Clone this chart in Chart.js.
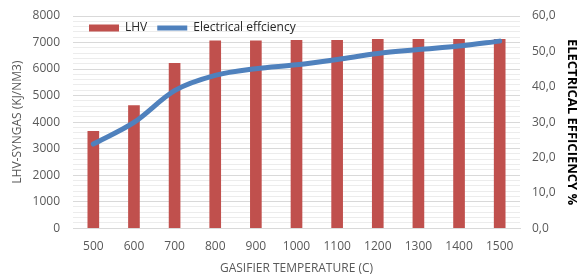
<!DOCTYPE html>
<html>
<head>
<meta charset="utf-8">
<script src="https://cdn.jsdelivr.net/npm/chart.js@4/dist/chart.umd.min.js"></script>
<style>
  html, body { margin: 0; padding: 0; background: #ffffff; }
  #wrap { width: 582px; height: 277px; }
</style>
</head>
<body>
<div id="wrap"><canvas id="chart"></canvas></div>
<script>
// values
const temperatures = ['500', '600', '700', '800', '900', '1000', '1100', '1200', '1300', '1400', '1500'];
const lhvValues = [3650, 4620, 6220, 7060, 7060, 7080, 7080, 7120, 7120, 7120, 7120];
const efficiencyValues = [23.8, 29.9, 38.9, 43.2, 45.1, 46.2, 47.7, 49.4, 50.5, 51.5, 52.9];

const tickColor = '#595959';
const fontFamily = "'Open Sans', 'Noto Sans', sans-serif";

// the legend sits inside the plot area, so it takes no room in the layout
const legendInside = {
    id: 'legendInside',
    afterInit(chart) {
        const lg = chart.legend;
        const fit = lg.fit.bind(lg);
        lg.fit = function () { fit(); this.height = 0; };
    },
    afterLayout(chart) {
        const lg = chart.legend;
        const area = chart.chartArea;
        lg.left = area.left + 6;
        lg.right = area.right;
        lg.top = area.top - 4;
        lg.bottom = lg.top + 30;
        lg.width = lg.right - lg.left;
        lg.height = 30;
    }
};

// fixed side widths; keep the tick padding from pushing the plot top down
const fixSide = (w) => (scale) => {
    scale.width = w;
    scale.paddingTop = 8;
    scale.paddingBottom = 8;
};

const ctx = document.getElementById('chart').getContext('2d');

new Chart(ctx, {
    type: 'bar',
    data: {
        labels: temperatures,
        datasets: [
            {
                type: 'bar',
                label: 'LHV',
                data: lhvValues,
                backgroundColor: '#c0504d',
                borderWidth: 0,
                barThickness: 11,
                pointStyle: 'rect',
                yAxisID: 'y',
                order: 2
            },
            {
                type: 'line',
                label: 'Electrical effciency',
                data: efficiencyValues,
                borderColor: '#4f81bd',
                backgroundColor: '#4f81bd',
                borderWidth: 5,
                borderCapStyle: 'round',
                borderJoinStyle: 'round',
                cubicInterpolationMode: 'monotone',
                pointRadius: 0,
                pointStyle: 'line',
                yAxisID: 'y1',
                order: 1
            }
        ]
    },
    options: {
        responsive: true,
        maintainAspectRatio: false,
        animation: false,
        layout: {
            padding: { top: 16, left: 0, right: 0, bottom: 0 }
        },
        scales: {
            x: {
                grid: { display: false },
                border: { display: true, color: '#d9d9d9' },
                ticks: {
                    color: tickColor,
                    font: { family: fontFamily, size: 12 },
                    padding: 3
                },
                title: {
                    display: true,
                    text: 'GASIFIER TEMPERATURE (C)',
                    color: tickColor,
                    font: { family: fontFamily, size: 12 },
                    padding: { top: 5, bottom: 1 }
                }
            },
            y: {
                position: 'left',
                min: 0,
                max: 8000,
                border: { display: false },
                grid: {
                    color: (c) => (c.tick && c.tick.value % 1000 === 0) ? '#d9d9d9' : '#ececec',
                    drawTicks: false
                },
                ticks: {
                    stepSize: 200,
                    autoSkip: false,
                    color: tickColor,
                    font: { family: fontFamily, size: 12 },
                    padding: 13,
                    callback: (v) => v % 1000 === 0 ? String(v) : ''
                },
                title: {
                    display: true,
                    text: 'LHV-SYNGAS (KJ/NM3)',
                    color: tickColor,
                    font: { family: fontFamily, size: 12 },
                    padding: { top: 10, bottom: 4 }
                },
                afterFit: fixSide(73)
            },
            y1: {
                position: 'right',
                min: 0,
                max: 60,
                border: { display: false },
                grid: { drawOnChartArea: false, drawTicks: false },
                ticks: {
                    stepSize: 10,
                    color: tickColor,
                    font: { family: fontFamily, size: 12 },
                    padding: 12,
                    callback: (v) => v.toFixed(1).replace('.', ',')
                },
                title: {
                    display: true,
                    text: 'ELECTRICAL EFFICIENCY %',
                    color: '#000000',
                    font: { family: fontFamily, size: 13, weight: 'bold' },
                    padding: { top: 2, bottom: 2 }
                },
                afterFit: fixSide(62)
            }
        },
        plugins: {
            legend: {
                position: 'top',
                align: 'start',
                labels: {
                    usePointStyle: true,
                    pointStyleWidth: 30,
                    boxHeight: 7,
                    color: '#262626',
                    font: { family: fontFamily, size: 12 },
                    padding: 10,
                    sort: (a, b) => a.datasetIndex - b.datasetIndex
                }
            },
            tooltip: { enabled: false }
        }
    },
    plugins: [legendInside]
});
</script>
</body>
</html>
